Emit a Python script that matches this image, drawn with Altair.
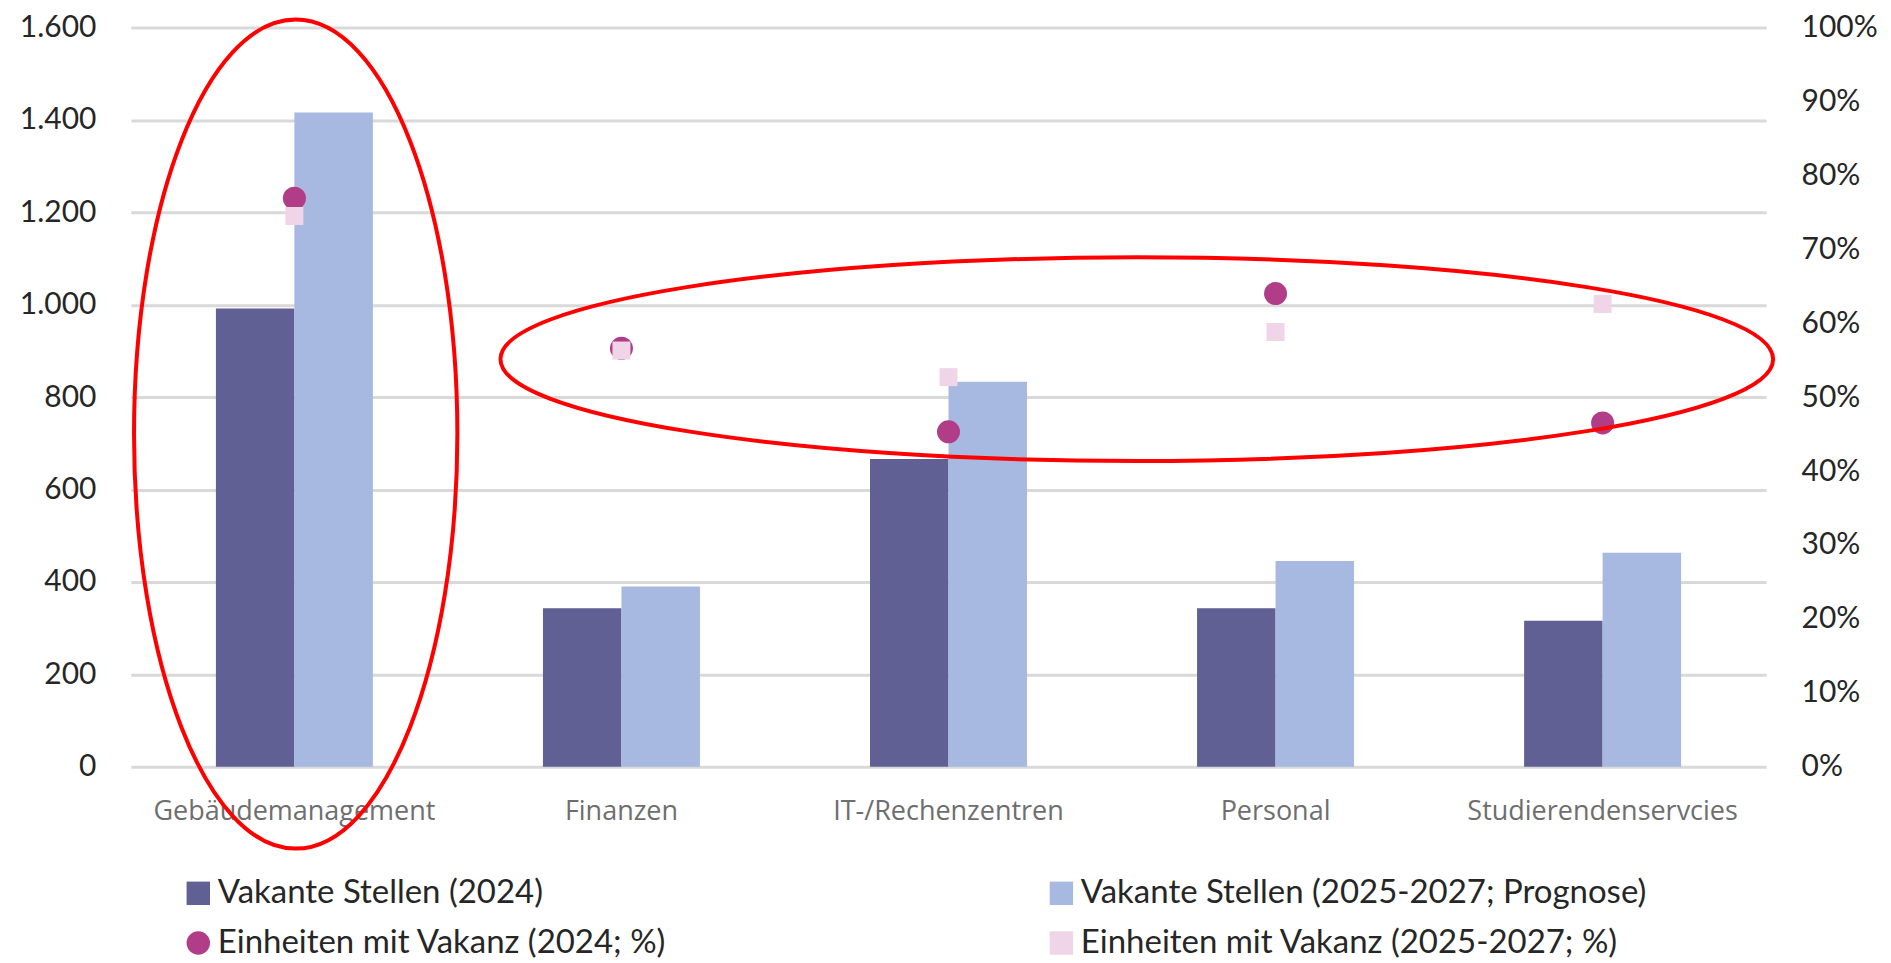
import altair as alt
import pandas as pd

# ---- data ----
categories = ["Gebäudemanagement", "Finanzen", "IT-/Rechenzentren", "Personal", "Studierendenservcies"]
vakant_2024 = [992, 343, 666, 343, 316]
vakant_2025_2027 = [1416, 390, 833, 445, 463]
einheiten_2024 = [0.769, 0.566, 0.453, 0.640, 0.465]
einheiten_2025_2027 = [0.745, 0.563, 0.527, 0.588, 0.626]

series_names = [
    "Vakante Stellen (2024)",
    "Vakante Stellen (2025-2027; Prognose)",
    "Einheiten mit Vakanz (2024; %)",
    "Einheiten mit Vakanz (2025-2027; %)",
]
series_colors = ["#606094", "#A7B9E0", "#B13C87", "#F0D4E7"]
series_shapes = ["square", "square", "circle", "square"]

left_ticks = [0, 200, 400, 600, 800, 1000, 1200, 1400, 1600]
right_ticks = [0.0, 0.1, 0.2, 0.3, 0.4, 0.5, 0.6, 0.7, 0.8, 0.9, 1.0]


def ellipse_path(rx, ry):
    k = 0.5523
    return (
        f"M 0 {-ry} "
        f"C {k*rx:.4f} {-ry} {rx} {-k*ry:.4f} {rx} 0 "
        f"C {rx} {k*ry:.4f} {k*rx:.4f} {ry} 0 {ry} "
        f"C {-k*rx:.4f} {ry} {-rx} {k*ry:.4f} {-rx} 0 "
        f"C {-rx} {-k*ry:.4f} {-k*rx:.4f} {-ry} 0 {-ry} Z"
    )


df_bars = pd.DataFrame({
    "Kategorie": categories * 2,
    "Serie": [series_names[0]] * len(categories) + [series_names[1]] * len(categories),
    "Wert": vakant_2024 + vakant_2025_2027,
})
df_pts = pd.DataFrame({
    "Kategorie": categories * 2,
    "Serie": [series_names[2]] * len(categories) + [series_names[3]] * len(categories),
    "Anteil": einheiten_2024 + einheiten_2025_2027,
})

color_scale = alt.Scale(domain=series_names, range=series_colors)
shape_scale = alt.Scale(domain=series_names, range=series_shapes)

x_enc = alt.X(
    "Kategorie:N", sort=categories,
    scale=alt.Scale(paddingInner=0.52, paddingOuter=0.26),
    axis=alt.Axis(title=None, labelAngle=0, ticks=False, domain=False,
                  labelPadding=32, labelFont="Open Sans", labelFontSize=27,
                  labelColor="#6E6E6E", labelLimit=0),
)

bars = alt.Chart(df_bars).mark_bar().encode(
    x=x_enc,
    xOffset=alt.XOffset("Serie:N", sort=series_names[:2]),
    y=alt.Y("Wert:Q", scale=alt.Scale(domain=[0, 1600], nice=False),
            axis=alt.Axis(values=left_ticks, title=None, ticks=False, domain=False,
                          labelPadding=35,
                          labelExpr="replace(format(datum.value, ','), ',', '.')",
                          gridColor="#D9D9D9", gridWidth=3,
                          labelFont="Lato", labelFontSize=30, labelColor="#262626")),
    color=alt.Color("Serie:N", scale=color_scale, legend=alt.Legend(title=None)),
)

pts = alt.Chart(df_pts).mark_point(filled=True, opacity=1).encode(
    x=alt.X("Kategorie:N", sort=categories),
    y=alt.Y("Anteil:Q", scale=alt.Scale(domain=[0, 1], nice=False),
            axis=alt.Axis(orient="right", values=right_ticks, format=".0%", grid=False,
                          title=None, ticks=False, domain=False, labelPadding=35,
                          labelFont="Lato", labelFontSize=30, labelColor="#262626")),
    color=alt.Color("Serie:N", scale=color_scale, legend=alt.Legend(title=None)),
    shape=alt.Shape("Serie:N", scale=shape_scale, legend=alt.Legend(title=None)),
    size=alt.Size("Serie:O", scale=alt.Scale(domain=series_names[2:], range=[530, 324]), legend=None),
)

one = pd.DataFrame({"a": [0]})
ell1 = alt.Chart(one).mark_point(
    shape=ellipse_path(0.39, 1.0), size=(2 * 415) ** 2, filled=False,
    color="#FF0000", stroke="#FF0000", strokeWidth=4, opacity=1,
).encode(x=alt.value(165), y=alt.value(407))

ell2 = alt.Chart(one).mark_point(
    shape=ellipse_path(1.0, 0.16), size=(2 * 637) ** 2, filled=False,
    color="#FF0000", stroke="#FF0000", strokeWidth=4, opacity=1,
).encode(x=alt.value(1007), y=alt.value(332))

chart = (
    alt.layer(bars, pts, ell1, ell2)
    .resolve_scale(y="independent")
    .properties(width=1637, height=740,
                padding={"left": 11, "top": 3, "right": 5, "bottom": 0})
    .configure_view(stroke=None)
    .configure_legend(
        orient="none", legendX=51, legendY=850, columns=2, direction="horizontal",
        columnPadding=378, rowPadding=16, symbolSize=550, symbolStrokeWidth=0,
        labelFont="Lato", labelFontSize=33, labelColor="#262626",
        labelOffset=3, labelLimit=0,
    )
)

chart.save("out.html", embed_options={"renderer": "svg", "actions": False})
